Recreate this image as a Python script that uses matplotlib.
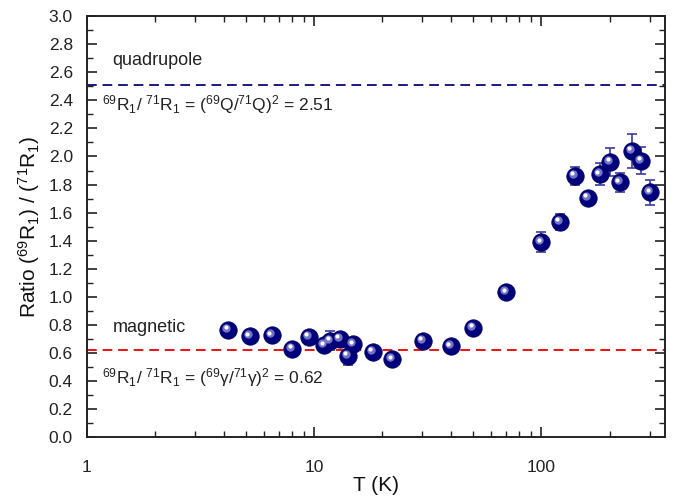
import numpy as np
import matplotlib
matplotlib.use("Agg")
import matplotlib.pyplot as plt
from matplotlib.transforms import offset_copy
from matplotlib.ticker import LogLocator, MultipleLocator, NullFormatter

plt.rcParams["font.family"] = ["Liberation Sans", "DejaVu Sans"]
plt.rcParams["mathtext.fontset"] = "custom"
plt.rcParams["mathtext.rm"] = "Liberation Sans"
plt.rcParams["mathtext.it"] = "Liberation Sans:italic"

# data
T = [4.2, 5.2, 6.5, 8.0, 9.5, 11.1, 11.8, 13.0, 14.1, 14.9, 18.1, 22.1, 30.1, 40.0,
     50.1, 70.1, 100, 120.5, 140.7, 160, 180.6, 201, 221.5, 250.6, 275, 302]
ratio = [0.765, 0.722, 0.727, 0.632, 0.717, 0.655, 0.69, 0.701, 0.58, 0.663, 0.609,
         0.557, 0.687, 0.651, 0.78, 1.033, 1.391, 1.536, 1.861, 1.707, 1.873, 1.963,
         1.816, 2.041, 1.968, 1.747]
err = [0.02, 0.02, 0.02, 0.02, 0.02, 0.03, 0.07, 0.03, 0.064, 0.03, 0.02, 0.02, 0.02,
       0.02, 0.02, 0.03, 0.072, 0.057, 0.063, 0.03, 0.077, 0.10, 0.069, 0.12, 0.096, 0.089]
quad_ratio = 2.51
mag_ratio = 0.62

fig = plt.figure(figsize=(6.73, 4.98), dpi=100)
ax = fig.add_axes([0.129, 0.1215, 0.859, 0.8465])

ax.axhline(quad_ratio, color="#1a1a80", ls=(0, (5, 3)), lw=1.4, zorder=1)
ax.axhline(mag_ratio, color="#ee1111", ls=(0, (5, 3)), lw=1.4, zorder=1)

ax.errorbar(T, ratio, yerr=err, fmt="none", ecolor="#3c3ca0", elinewidth=1.2,
            capsize=3.5, capthick=1.2, zorder=2)
# sphere-like markers: dark body + offset highlights
ax.plot(T, ratio, "o", ms=12.5, color="#00007d", mec="#00005a", mew=0.6, zorder=3)
hl1 = offset_copy(ax.transData, fig=fig, x=-2.0, y=2.0, units="dots")
hl2 = offset_copy(ax.transData, fig=fig, x=-2.5, y=2.5, units="dots")
ax.plot(T, ratio, "o", ms=6, color="#8080d0", mew=0, alpha=0.9, transform=hl1, zorder=4)
ax.plot(T, ratio, "o", ms=3, color="white", mew=0, transform=hl2, zorder=5)

ax.set_xscale("log")
ax.set_xlim(1, 350)
ax.set_ylim(0, 3.0)
ax.set_xticks([1, 10, 100])
ax.set_xticklabels(["1", "10", "100"])
ax.xaxis.set_minor_locator(LogLocator(base=10, subs=np.arange(2, 10)))
ax.xaxis.set_minor_formatter(NullFormatter())
ax.yaxis.set_major_locator(MultipleLocator(0.2))
ax.yaxis.set_minor_locator(MultipleLocator(0.1))
ax.yaxis.set_major_formatter(plt.FuncFormatter(lambda v, p: f"{v:.1f}"))

ax.tick_params(which="both", direction="in", top=True, right=True, color="#222222",
               labelsize=12.5, labelcolor="#222222")
ax.tick_params(axis="x", which="major", length=7, width=1.2, pad=16)
ax.tick_params(axis="y", which="major", length=7, width=1.2, pad=10)
ax.tick_params(which="minor", length=4, width=1.0)
for s in ax.spines.values():
    s.set_linewidth(1.4)
    s.set_color("#222222")

ax.set_xlabel("T (K)", fontsize=15, color="#111111", labelpad=1)
ax.set_ylabel(r"Ratio ($^{69}$R$_1$) / ($^{71}$R$_1$)", fontsize=15, color="#111111",
              labelpad=5)

ax.text(1.3, 2.68, "quadrupole", fontsize=13, va="center", color="#222222")
ax.text(1.17, 2.37, r"$^{69}$R$_1$/ $^{71}$R$_1$ = ($^{69}$Q/$^{71}$Q)$^2$ = 2.51",
        fontsize=12.5, va="center", color="#222222")
ax.text(1.3, 0.78, "magnetic", fontsize=13, va="center", color="#222222")
ax.text(1.17, 0.43, r"$^{69}$R$_1$/ $^{71}$R$_1$ = ($^{69}$γ/$^{71}$γ)$^2$ = 0.62",
        fontsize=12.5, va="center", color="#222222")

fig.savefig("out.png", dpi=100)
